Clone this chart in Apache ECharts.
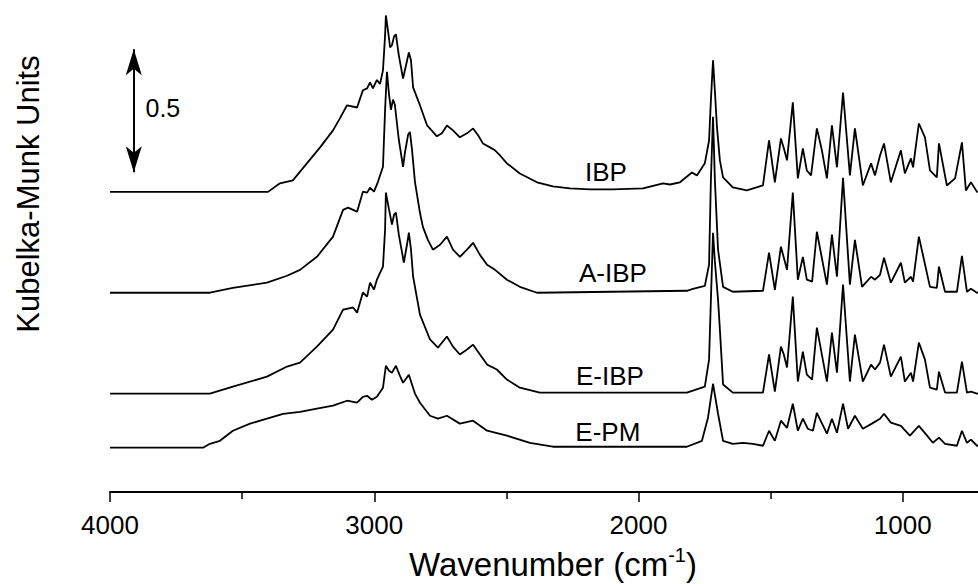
<!DOCTYPE html>
<html>
<head>
<meta charset="utf-8">
<script src="https://cdn.jsdelivr.net/npm/echarts@6/dist/echarts.min.js"></script>
<style>
  html, body { margin: 0; padding: 0; background: #fff; }
  #main { width: 978px; height: 584px; }
</style>
</head>
<body>
<div id="main"></div>
<script>
// sample names, vertical offsets (KM units) and label anchors (cm-1, KM units)
var sampleNames = ["IBP", "A-IBP", "E-IBP", "E-PM"];
var offsets = [1.22, 0.81, 0.40, 0.18];
var labelWn = [2123, 2097, 2108, 2116];
var labelKm = [1.301, 0.890, 0.472, 0.244];

// scale bar: wavenumber, bottom, top (KM units) and its text
var scaleBar = [3910, 1.30, 1.80];
var scaleText = "0.5";
var scaleTextAt = [3800, 1.56];

// tick labels shown on the wavenumber axis
var xTickLabels = [4000, 3000, 2000, 1000];

// spectra: [wavenumber, Kubelka-Munk] above each baseline
var ibp = [
  [4000,0],[3402,0],[3357,0.035],[3308,0.047],[3255,0.116],[3205,0.181],[3156,0.25],[3130,0.299],
  [3103,0.352],[3065,0.343],[3043,0.413],[3027,0.421],[3016,0.445],[3005,0.421],[2990,0.455],[2978,0.439],
  [2967,0.494],[2959,0.636],[2956,0.717],[2948,0.656],[2940,0.587],[2933,0.596],[2925,0.632],[2918,0.64],
  [2907,0.555],[2891,0.461],[2880,0.514],[2869,0.567],[2861,0.535],[2853,0.425],[2827,0.352],[2800,0.27],
  [2763,0.226],[2744,0.238],[2725,0.27],[2702,0.25],[2676,0.222],[2649,0.238],[2626,0.258],[2607,0.23],
  [2589,0.197],[2562,0.181],[2543,0.169],[2524,0.148],[2498,0.116],[2449,0.075],[2384,0.039],[2324,0.022],
  [2259,0.014],[2184,0.01],[2097,0.01],[1983,0.014],[1907,0.035],[1881,0.03],[1843,0.039],[1798,0.079],
  [1779,0.067],[1749,0.116],[1733,0.209],[1726,0.372],[1718,0.535],[1711,0.411],[1703,0.262],[1692,0.128],
  [1680,0.059],[1643,0.018],[1590,0.006],[1529,0.026],[1506,0.209],[1484,0.039],[1461,0.217],[1450,0.177],
  [1438,0.128],[1416,0.364],[1397,0.055],[1378,0.177],[1363,0.087],[1347,0.067],[1325,0.258],[1306,0.169],
  [1287,0.055],[1268,0.27],[1249,0.1],[1226,0.404],[1200,0.067],[1181,0.258],[1151,0.026],[1120,0.116],
  [1105,0.067],[1086,0.148],[1071,0.197],[1045,0.039],[1007,0.169],[992,0.075],[969,0.136],[961,0.1],
  [939,0.278],[916,0.222],[897,0.087],[871,0.059],[863,0.197],[833,0.026],[802,0.055],[776,0.201],
  [761,0.006],[742,0.039],[719,0],[700,0]
];
var aIbp = [
  [4000,0],[3622,0],[3535,0.02],[3406,0.041],[3330,0.069],[3281,0.093],[3217,0.146],[3156,0.228],
  [3118,0.337],[3099,0.346],[3080,0.337],[3065,0.329],[3043,0.411],[3027,0.407],[3016,0.427],[3001,0.411],
  [2986,0.451],[2967,0.512],[2959,0.744],[2952,0.898],[2944,0.805],[2937,0.744],[2929,0.785],[2922,0.764],
  [2907,0.622],[2891,0.512],[2884,0.569],[2872,0.642],[2865,0.654],[2857,0.581],[2846,0.451],[2827,0.325],
  [2816,0.268],[2797,0.215],[2778,0.175],[2751,0.195],[2725,0.228],[2702,0.175],[2676,0.146],[2649,0.175],
  [2626,0.203],[2600,0.154],[2573,0.114],[2543,0.093],[2498,0.053],[2449,0.024],[2384,0],[1817,0.008],
  [1794,0.016],[1749,0.028],[1733,0.114],[1726,0.459],[1718,0.715],[1711,0.459],[1699,0.175],[1680,0.024],
  [1643,0.004],[1529,0.008],[1506,0.163],[1484,0.012],[1461,0.187],[1450,0.142],[1438,0.093],[1416,0.407],
  [1397,0.053],[1378,0.146],[1363,0.053],[1343,0.045],[1325,0.248],[1287,0.033],[1268,0.236],[1249,0.065],
  [1226,0.467],[1200,0.033],[1181,0.215],[1154,0.024],[1120,0.065],[1105,0.053],[1086,0.073],[1071,0.142],
  [1045,0.041],[1007,0.122],[992,0.041],[969,0.065],[961,0.045],[939,0.228],[897,0.024],[871,0.02],
  [863,0.106],[840,0.004],[795,0.004],[776,0.15],[757,0.004],[742,0.016],[719,0],[700,0]
];
var eIbp = [
  [4000,0],[3622,0],[3535,0.028],[3406,0.069],[3330,0.11],[3281,0.126],[3217,0.191],[3156,0.26],
  [3118,0.341],[3080,0.35],[3065,0.329],[3043,0.411],[3027,0.394],[3016,0.451],[3001,0.423],[2990,0.463],
  [2967,0.516],[2959,0.667],[2956,0.817],[2944,0.748],[2933,0.687],[2925,0.728],[2918,0.736],[2907,0.646],
  [2888,0.533],[2876,0.606],[2869,0.654],[2861,0.585],[2853,0.476],[2827,0.321],[2789,0.22],[2759,0.187],
  [2725,0.232],[2702,0.191],[2676,0.159],[2649,0.179],[2626,0.199],[2600,0.159],[2573,0.118],[2536,0.098],
  [2498,0.057],[2449,0.024],[2373,0.004],[1817,0.004],[1794,0.012],[1749,0.028],[1733,0.138],[1726,0.382],
  [1718,0.654],[1711,0.537],[1699,0.382],[1692,0.26],[1680,0.037],[1643,0.004],[1529,0.004],[1506,0.159],
  [1484,0.008],[1461,0.191],[1450,0.159],[1438,0.106],[1416,0.394],[1397,0.049],[1378,0.171],[1363,0.077],
  [1343,0.057],[1325,0.268],[1287,0.049],[1268,0.248],[1249,0.085],[1226,0.443],[1200,0.049],[1181,0.24],
  [1151,0.049],[1120,0.118],[1105,0.098],[1086,0.126],[1071,0.199],[1045,0.069],[1007,0.15],[992,0.049],
  [969,0.085],[961,0.049],[939,0.207],[916,0.138],[897,0.024],[871,0.016],[863,0.089],[840,0.004],
  [795,0.004],[776,0.13],[757,0.004],[742,0.008],[719,0],[700,0]
];
var ePm = [
  [4000,0],[3648,0],[3622,0.016],[3584,0.028],[3535,0.069],[3470,0.098],[3406,0.118],[3345,0.138],
  [3281,0.146],[3217,0.159],[3156,0.171],[3103,0.191],[3065,0.183],[3043,0.207],[3027,0.211],[3009,0.195],
  [2990,0.207],[2967,0.244],[2956,0.333],[2944,0.313],[2933,0.305],[2918,0.333],[2903,0.293],[2891,0.264],
  [2869,0.297],[2846,0.22],[2827,0.183],[2789,0.13],[2759,0.118],[2725,0.13],[2676,0.098],[2626,0.11],
  [2573,0.069],[2498,0.049],[2411,0.02],[2324,0.004],[1817,0.004],[1760,0.028],[1737,0.122],[1718,0.26],
  [1699,0.138],[1680,0.028],[1643,0.016],[1605,0.02],[1567,0.016],[1529,0.008],[1506,0.069],[1484,0.028],
  [1461,0.11],[1438,0.081],[1416,0.179],[1397,0.069],[1378,0.118],[1359,0.077],[1340,0.069],[1325,0.142],
  [1287,0.057],[1268,0.118],[1249,0.061],[1226,0.179],[1207,0.077],[1181,0.13],[1151,0.077],[1117,0.098],
  [1086,0.118],[1071,0.138],[1045,0.102],[1007,0.089],[973,0.049],[939,0.089],[908,0.049],[886,0.02],
  [863,0.041],[840,0.016],[795,0.008],[776,0.069],[757,0.02],[742,0.033],[719,0.008],[700,0.008]
];
var spectra = [ibp, aIbp, eIbp, ePm];

var FONT = "Liberation Sans, Arial, sans-serif";

var chart = echarts.init(document.getElementById("main"), null, { renderer: "svg" });

var series = spectra.map(function (s, i) {
  return {
    name: sampleNames[i],
    type: "line",
    showSymbol: false,
    silent: true,
    lineStyle: { color: "#000", width: 1.8 },
    data: s.map(function (p) { return [p[0], p[1] + offsets[i]]; }),
    markPoint: {
      symbol: "circle",
      symbolSize: 0,
      silent: true,
      label: { show: true, position: "inside", color: "#000", fontSize: 26, fontFamily: FONT, formatter: sampleNames[i] },
      data: [{ coord: [labelWn[i], labelKm[i]] }]
    }
  };
});

// scale bar with arrows
series.push({
  type: "line",
  data: [],
  silent: true,
  markLine: {
    symbol: ["arrow", "arrow"],
    symbolSize: [12, 26],
    silent: true,
    label: { show: false },
    lineStyle: { color: "#000", width: 2, type: "solid" },
    data: [[{ coord: [scaleBar[0], scaleBar[1]] }, { coord: [scaleBar[0], scaleBar[2]] }]]
  },
  markPoint: {
    symbol: "circle",
    symbolSize: 0,
    silent: true,
    label: { show: true, position: "inside", color: "#000", fontSize: 25, fontFamily: FONT, formatter: scaleText },
    data: [{ coord: scaleTextAt }]
  }
});

chart.setOption({
  animation: false,
  backgroundColor: "#fff",
  grid: { left: 110, top: 0, width: 1057, height: 492, containLabel: false, outerBoundsMode: "none" },
  xAxis: {
    type: "value",
    min: 0,
    max: 4000,
    interval: 1000,
    inverse: true,
    axisLine: { lineStyle: { color: "#000", width: 2 } },
    axisTick: { length: 10, lineStyle: { color: "#000", width: 1.5 } },
    minorTick: { show: true, splitNumber: 2, length: 7, lineStyle: { color: "#000", width: 1.5 } },
    splitLine: { show: false },
    axisLabel: {
      color: "#000", fontSize: 26, fontFamily: FONT, margin: 20,
      formatter: function (v) { return xTickLabels.indexOf(v) >= 0 ? String(v) : ""; }
    }
  },
  yAxis: { type: "value", min: 0, max: 2, show: false },
  graphic: [
    {
      type: "text",
      x: 553, y: 564,
      style: {
        text: "{a|Wavenumber (cm}{s|-1}{a|)}",
        align: "center",
        verticalAlign: "middle",
        rich: {
          a: { fontSize: 33, fontFamily: FONT, fill: "#000", lineHeight: 38 },
          s: { fontSize: 20, fontFamily: FONT, fill: "#000", verticalAlign: "top", lineHeight: 38, padding: [0, 0, 17, 0] }
        }
      }
    },
    {
      type: "text",
      x: 28, y: 194,
      rotation: Math.PI / 2,
      style: {
        text: "Kubelka-Munk Units",
        align: "center",
        verticalAlign: "middle",
        fontSize: 31,
        fontFamily: FONT,
        fill: "#000"
      }
    }
  ],
  series: series
});
</script>
</body>
</html>
